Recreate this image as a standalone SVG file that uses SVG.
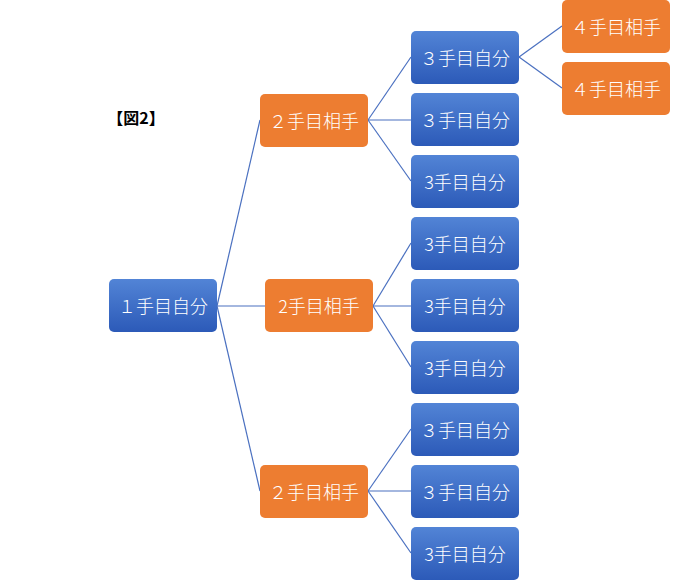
<svg xmlns="http://www.w3.org/2000/svg" width="700" height="582" viewBox="0 0 700 582">
<defs>
<linearGradient id="bg" x1="0" y1="0" x2="0" y2="1"><stop offset="0" stop-color="#5284d6"/><stop offset="1" stop-color="#2c5ab8"/></linearGradient>
<style>
.b{fill:url(#bg)}
.o{fill:#ed7d31}
text{font-family:"Noto Sans CJK JP","Noto Sans CJK SC",sans-serif;font-size:18px;fill:#fff;text-anchor:middle;dominant-baseline:central;font-weight:300}
.c line{stroke:#4a70c0;stroke-width:1.2}
</style>
</defs>
<rect width="700" height="582" fill="#fff"/>
<text x="136" y="117" style="fill:#000;font-weight:bold;font-size:16px">【図2】</text>
<g class="c">
<line x1="217" y1="306" x2="260" y2="120"/><line x1="217" y1="306" x2="265" y2="306"/><line x1="217" y1="306" x2="260" y2="491"/>
<line x1="368" y1="120" x2="411" y2="57"/><line x1="368" y1="120" x2="411" y2="120"/><line x1="368" y1="120" x2="411" y2="181"/>
<line x1="373" y1="306" x2="411" y2="243"/><line x1="373" y1="306" x2="411" y2="306"/><line x1="373" y1="306" x2="411" y2="367"/>
<line x1="368" y1="491" x2="411" y2="429"/><line x1="368" y1="491" x2="411" y2="491"/><line x1="368" y1="491" x2="411" y2="553"/>
<line x1="519" y1="57" x2="562" y2="26"/><line x1="519" y1="57" x2="562" y2="88"/>
</g>
<g id="n1"><rect class="b" x="109" y="279" width="108" height="53" rx="5"/><text x="163" y="305">１手目自分</text></g>
<g id="n2a"><rect class="o" x="260" y="94" width="108" height="53" rx="5"/><text x="314" y="120">２手目相手</text></g>
<g id="n2b"><rect class="o" x="265" y="279" width="108" height="53" rx="5"/><text x="319" y="305">2手目相手</text></g>
<g id="n2c"><rect class="o" x="260" y="465" width="108" height="53" rx="5"/><text x="314" y="491">２手目相手</text></g>
<g id="n3a"><rect class="b" x="411" y="31" width="108" height="53" rx="5"/><text x="465" y="57">３手目自分</text></g>
<g id="n3b"><rect class="b" x="411" y="93" width="108" height="53" rx="5"/><text x="465" y="119">３手目自分</text></g>
<g id="n3c"><rect class="b" x="411" y="155" width="108" height="53" rx="5"/><text x="465" y="181">3手目自分</text></g>
<g id="n3d"><rect class="b" x="411" y="217" width="108" height="53" rx="5"/><text x="465" y="243">3手目自分</text></g>
<g id="n3e"><rect class="b" x="411" y="279" width="108" height="53" rx="5"/><text x="465" y="305">3手目自分</text></g>
<g id="n3f"><rect class="b" x="411" y="341" width="108" height="53" rx="5"/><text x="465" y="367">3手目自分</text></g>
<g id="n3g"><rect class="b" x="411" y="403" width="108" height="53" rx="5"/><text x="465" y="429">３手目自分</text></g>
<g id="n3h"><rect class="b" x="411" y="465" width="108" height="53" rx="5"/><text x="465" y="491">３手目自分</text></g>
<g id="n3i"><rect class="b" x="411" y="527" width="108" height="53" rx="5"/><text x="465" y="553">3手目自分</text></g>
<g id="n4a"><rect class="o" x="562" y="0" width="108" height="53" rx="5"/><text x="616" y="26">４手目相手</text></g>
<g id="n4b"><rect class="o" x="562" y="62" width="108" height="53" rx="5"/><text x="616" y="88">４手目相手</text></g>
</svg>
